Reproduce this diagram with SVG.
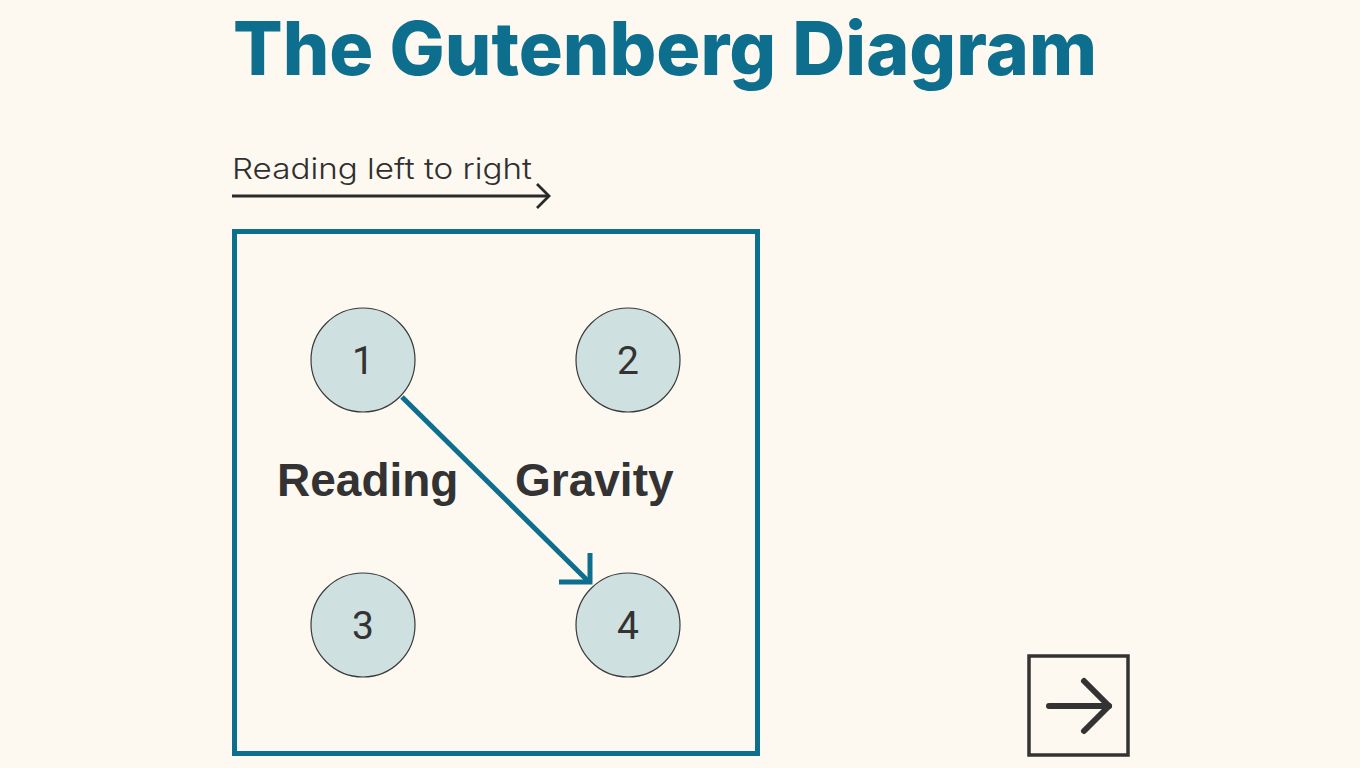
<svg xmlns="http://www.w3.org/2000/svg" width="1360" height="768" viewBox="0 0 1360 768">
<defs>
<style>
.title{font-family:Inter,"Liberation Sans",Arial,sans-serif;font-weight:800;font-size:74px;fill:#0E6E8E}
.sub{font-family:Inter,"Liberation Sans",sans-serif;font-weight:300;font-size:29px;fill:#2f2f2f}
.lbl{font-family:"Liberation Sans",Arial,sans-serif;font-weight:bold;font-size:46px;fill:#333333}
.num{font-family:Roboto,"Liberation Sans",sans-serif;font-size:39px;fill:#333333;text-anchor:middle}
.node circle{fill:#CFE0E0;stroke:#3a3a3a;stroke-width:1.2}
</style>
</defs>
<rect width="1360" height="768" fill="#FDF9F1"/>
<text class="title" x="233" y="75" textLength="864" lengthAdjust="spacingAndGlyphs">The Gutenberg Diagram</text>
<text class="sub" x="232" y="179" textLength="300" lengthAdjust="spacingAndGlyphs">Reading left to right</text>
<g id="reading-arrow" fill="none" stroke="#2a2a2a" stroke-width="2.8">
<line x1="232" y1="196" x2="548" y2="196"/>
<polyline points="537,184 549,196 537,208"/>
</g>
<rect id="frame" x="234.5" y="231.5" width="523" height="522" fill="none" stroke="#0E6E8E" stroke-width="5"/>
<g id="node1" class="node"><circle cx="363" cy="360" r="52"/><text class="num" x="363" y="374">1</text></g>
<g id="node2" class="node"><circle cx="628" cy="360" r="52"/><text class="num" x="628" y="374">2</text></g>
<g id="node3" class="node"><circle cx="363" cy="625" r="52"/><text class="num" x="363" y="639">3</text></g>
<g id="node4" class="node"><circle cx="628" cy="625" r="52"/><text class="num" x="628" y="639">4</text></g>
<text class="lbl" x="277" y="496">Reading</text>
<text class="lbl" x="515" y="496">Gravity</text>
<g id="connectors" fill="none" stroke="#0E6E8E" stroke-width="5">
<line x1="402" y1="397" x2="589" y2="582"/>
<polyline points="590,553 590,582 559,582"/>
</g>
<g id="next-button" fill="none" stroke="#333333">
<rect x="1029" y="656" width="99" height="99" stroke-width="3.5"/>
<g stroke-width="6" stroke-linecap="round" stroke-linejoin="round">
<line x1="1049" y1="706" x2="1109" y2="706"/>
<polyline points="1084,681 1109,706 1084,731"/>
</g>
</g>
</svg>
